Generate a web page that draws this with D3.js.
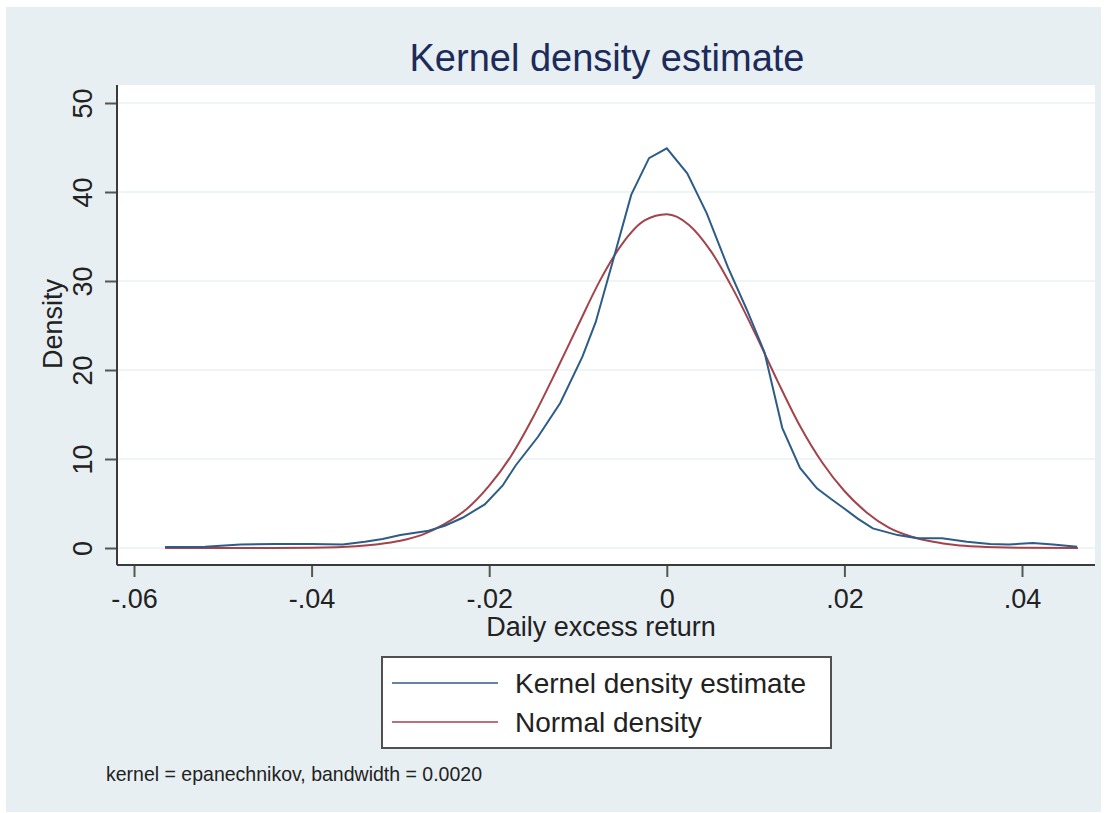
<!DOCTYPE html>
<html>
<head>
<meta charset="utf-8">
<script src="https://cdn.jsdelivr.net/npm/d3@7"></script>
<style>
  html, body { margin: 0; padding: 0; background: #ffffff; }
  svg { display: block; font-family: "Liberation Sans", Arial, sans-serif; }
</style>
</head>
<body>
<div id="chart"></div>
<script>
// kernel density estimate
var kdeX = [-0.0565, -0.052, -0.048, -0.044, -0.040, -0.0365, -0.034, -0.032, -0.030, -0.027,
            -0.025, -0.023, -0.0205, -0.0185, -0.017, -0.0145, -0.012, -0.0095, -0.008, -0.006,
            -0.004, -0.002, 0.000, 0.0023, 0.0045, 0.0069, 0.009, 0.011, 0.013, 0.015,
            0.0169, 0.0185, 0.0199, 0.0215, 0.0232, 0.026, 0.0282, 0.031, 0.0338, 0.0364,
            0.0385, 0.0412, 0.0435, 0.0462];
var kdeY = [0.1, 0.15, 0.4, 0.45, 0.45, 0.4, 0.7, 1.0, 1.45, 1.9,
            2.5, 3.4, 4.9, 7.0, 9.3, 12.5, 16.3, 21.5, 25.4, 32.5,
            39.7, 43.8, 44.9, 42.1, 37.6, 31.5, 26.8, 22.0, 13.5, 9.0,
            6.7, 5.5, 4.5, 3.3, 2.2, 1.45, 1.1, 1.1, 0.7, 0.45,
            0.4, 0.55, 0.4, 0.15];

// normal density
var normX = [-0.0565, -0.050, -0.045, -0.040, -0.035, -0.0325, -0.030, -0.0275, -0.025, -0.0225,
             -0.020, -0.0175, -0.015, -0.0125, -0.010, -0.0075, -0.005, -0.0025, 0.000, 0.0025,
             0.005, 0.0075, 0.010, 0.0125, 0.015, 0.0175, 0.020, 0.0225, 0.025, 0.0275,
             0.030, 0.0325, 0.035, 0.040, 0.0463];
var normY = [0.0, 0.0, 0.01, 0.04, 0.2, 0.42, 0.81, 1.5, 2.7, 4.4,
             7.0, 10.4, 14.8, 19.8, 25.0, 30.1, 34.2, 36.8, 37.5, 36.3,
             33.3, 29.0, 24.0, 18.7, 13.7, 9.6, 6.4, 4.0, 2.3, 1.3,
             0.7, 0.35, 0.17, 0.03, 0.0];

var xTicks = [-0.06, -0.04, -0.02, 0, 0.02, 0.04];
var xTickLabels = ['-.06', '-.04', '-.02', '0', '.02', '.04'];
var yTicks = [0, 10, 20, 30, 40, 50];

var seriesNames = ['Kernel density estimate', 'Normal density'];
var seriesColors = ['#2d5c88', '#a3434b'];

var width = 1110, height = 813,
    plot = { left: 117, right: 1095, top: 85, bottom: 565 };

var svg = d3.select('#chart')
            .append('svg')
              .attr('width', width)
              .attr('height', height);

// outer graph region
svg.append('rect')
   .attr('x', 6).attr('y', 7)
   .attr('width', 1095).attr('height', 805)
   .attr('fill', '#e8eff2');

svg.append('rect')
   .attr('x', plot.left).attr('y', plot.top)
   .attr('width', plot.right - plot.left)
   .attr('height', plot.bottom - plot.top)
   .attr('fill', '#ffffff');

var x = d3.scaleLinear().domain([-0.06, 0.04]).range([134, 1022]);
var y = d3.scaleLinear().domain([0, 50]).range([548, 103]);

// gridlines
svg.append('g')
   .selectAll('line')
   .data(yTicks)
   .enter()
   .append('line')
     .attr('x1', plot.left)
     .attr('x2', plot.right)
     .attr('y1', function(d) { return y(d); })
     .attr('y2', function(d) { return y(d); })
     .attr('stroke', '#eaf2f3')
     .attr('stroke-width', 1.5);

// y axis
var yAxis = svg.append('g')
               .attr('transform', 'translate(' + plot.left + ',0)')
               .call(d3.axisLeft(y).tickValues(yTicks).tickSize(12).tickSizeOuter(0));
yAxis.select('.domain').remove();
yAxis.append('line')
     .attr('x1', 0).attr('x2', 0)
     .attr('y1', plot.top).attr('y2', plot.bottom)
     .attr('stroke', '#3a3a3a').attr('stroke-width', 2);
yAxis.selectAll('.tick line').attr('stroke', '#555').attr('stroke-width', 2);
yAxis.selectAll('.tick text')
     .attr('x', null).attr('dy', null)
     .attr('transform', 'translate(-25,0) rotate(-90)')
     .attr('text-anchor', 'middle')
     .attr('font-size', 27)
     .attr('font-family', '"Liberation Sans", Arial, sans-serif')
     .attr('fill', '#222');

// x axis
var xAxis = svg.append('g')
               .attr('transform', 'translate(0,' + plot.bottom + ')')
               .call(d3.axisBottom(x)
                       .tickValues(xTicks)
                       .tickFormat(function(d, i) { return xTickLabels[i]; })
                       .tickSize(12).tickSizeOuter(0));
xAxis.select('.domain').remove();
xAxis.append('line')
     .attr('x1', plot.left).attr('x2', plot.right)
     .attr('y1', 0).attr('y2', 0)
     .attr('stroke', '#3a3a3a').attr('stroke-width', 2);
xAxis.selectAll('.tick line').attr('stroke', '#555').attr('stroke-width', 2);
xAxis.selectAll('.tick text')
     .attr('y', 43).attr('dy', null)
     .attr('font-size', 27)
     .attr('font-family', '"Liberation Sans", Arial, sans-serif')
     .attr('fill', '#222');

// axis titles and title
svg.append('text')
   .attr('x', 601).attr('y', 636)
   .attr('text-anchor', 'middle')
   .attr('font-size', 27)
   .attr('fill', '#222')
   .text('Daily excess return');

svg.append('text')
   .attr('transform', 'translate(62,324) rotate(-90)')
   .attr('text-anchor', 'middle')
   .attr('font-size', 27)
   .attr('fill', '#222')
   .text('Density');

svg.append('text')
   .attr('x', 607).attr('y', 71)
   .attr('text-anchor', 'middle')
   .attr('font-size', 38)
   .attr('fill', '#1c2b59')
   .text('Kernel density estimate');

// curves
var line = d3.line()
             .x(function(d) { return x(d[0]); })
             .y(function(d) { return y(d[1]); });

var kde = d3.zip(kdeX, kdeY),
    norm = d3.zip(normX, normY);

svg.append('path')
   .datum(norm)
   .attr('d', line.curve(d3.curveMonotoneX))
   .attr('fill', 'none')
   .attr('stroke', seriesColors[1])
   .attr('stroke-width', 2);

svg.append('path')
   .datum(kde)
   .attr('d', line.curve(d3.curveLinear))
   .attr('fill', 'none')
   .attr('stroke', seriesColors[0])
   .attr('stroke-width', 2);

// legend
var legendBox = { x: 382, y: 657, w: 449, h: 91 };
svg.append('rect')
   .attr('x', legendBox.x).attr('y', legendBox.y)
   .attr('width', legendBox.w).attr('height', legendBox.h)
   .attr('fill', '#ffffff')
   .attr('stroke', '#505050')
   .attr('stroke-width', 2);

var legend = svg.selectAll('.legend-key')
                .data(seriesNames)
                .enter()
                .append('g')
                .attr('class', 'legend-key')
                .attr('transform', function(d, i) {
                  return 'translate(392,' + (683 + i * 39) + ')';
                });

legend.append('line')
      .attr('x1', 0).attr('x2', 106)
      .attr('stroke', function(d, i) { return seriesColors[i]; })
      .attr('stroke-opacity', 0.75)
      .attr('stroke-width', 2);

legend.append('text')
      .attr('x', 123).attr('y', 10)
      .attr('font-size', 28)
      .attr('fill', '#222')
      .text(function(d) { return d; });

// note
svg.append('text')
   .attr('x', 106).attr('y', 781)
   .attr('font-size', 21)
   .attr('fill', '#222')
   .attr('textLength', 376)
   .attr('lengthAdjust', 'spacingAndGlyphs')
   .text('kernel = epanechnikov, bandwidth = 0.0020');
</script>
</body>
</html>
